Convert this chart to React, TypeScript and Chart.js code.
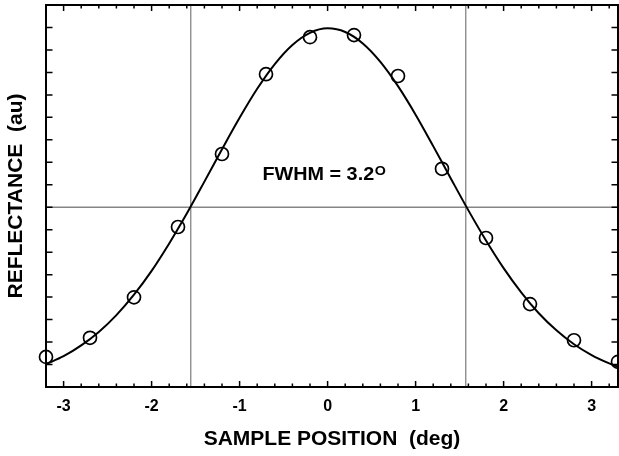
import React, { useEffect, useRef } from "react";
import { Chart, registerables } from "chart.js";

Chart.register(...registerables);

// ---- data ----
const sampleX = [-3.2, -2.7, -2.2, -1.7, -1.2, -0.7, -0.2, 0.3, 0.8, 1.3, 1.8, 2.3, 2.8, 3.3];
const sampleY = [1.34, 2.19, 3.99, 7.12, 10.37, 13.92, 15.57, 15.66, 13.84, 9.71, 6.63, 3.69, 2.08, 1.12];

const fitX = [
  -3.2, -3.0, -2.8, -2.6, -2.4, -2.2, -2.0, -1.8, -1.6, -1.4, -1.2, -1.0, -0.8, -0.6, -0.4, -0.2,
  0.0, 0.2, 0.4, 0.6, 0.8, 1.0, 1.2, 1.4, 1.6, 1.8, 2.0, 2.2, 2.4, 2.6, 2.8, 3.0, 3.2, 3.3,
];
const fitY = [
  1.02, 1.37, 1.85, 2.45, 3.2, 4.11, 5.17, 6.39, 7.72, 9.14, 10.58, 11.98, 13.27, 14.37, 15.22, 15.76,
  15.96, 15.8, 15.29, 14.47, 13.39, 12.12, 10.72, 9.28, 7.86, 6.52, 5.29, 4.21, 3.28, 2.52, 1.9, 1.42, 1.05, 0.9,
];

const halfMax = 8;
const fwhmEdges = [-1.555, 1.57];
const xRange = [-3.2, 3.3];
const yRange = [0, 17];

const fwhmLabel = "FWHM = 3.2";
const degreeMark = "O";
const xTitle = "SAMPLE POSITION  (deg)";
const yTitle = "REFLECTANCE  (au)";

const FONT = "'Liberation Sans', Arial, Helvetica, sans-serif";

const framePlugin = {
  id: "frameTicks",
  afterDraw(chart: any) {
    const { ctx, chartArea: a, scales } = chart;
    const xs = scales.x;
    const ys = scales.y;
    ctx.save();
    ctx.strokeStyle = "#000";
    ctx.lineWidth = 2;
    ctx.strokeRect(a.left, a.top, a.right - a.left, a.bottom - a.top);

    ctx.lineWidth = 1.5;
    ctx.beginPath();
    for (let i = -16; i <= 16; i++) {
      const px = xs.getPixelForValue(i / 5);
      const len = i % 5 === 0 ? 6 : 3.5;
      ctx.moveTo(px, a.bottom);
      ctx.lineTo(px, a.bottom - len);
      ctx.moveTo(px, a.top);
      ctx.lineTo(px, a.top + len);
    }
    for (let v = yRange[0] + 1; v < yRange[1]; v++) {
      const py = ys.getPixelForValue(v);
      ctx.moveTo(a.left, py);
      ctx.lineTo(a.left + 6.5, py);
      ctx.moveTo(a.right, py);
      ctx.lineTo(a.right - 6.5, py);
    }
    ctx.stroke();

    // annotation
    const ax = xs.getPixelForValue(-0.74);
    const ay = ys.getPixelForValue(9.23);
    ctx.translate(ax, ay);
    ctx.scale(1.1, 1);
    ctx.fillStyle = "#000";
    ctx.textBaseline = "alphabetic";
    ctx.textAlign = "left";
    ctx.font = `bold 18px ${FONT}`;
    ctx.fillText(fwhmLabel, 0, 0);
    const w = ctx.measureText(fwhmLabel).width;
    ctx.font = `bold 13px ${FONT}`;
    ctx.fillText(degreeMark, w + 0.5, -5);
    ctx.restore();
  },
};

export default function App() {
  const ref = useRef<HTMLCanvasElement | null>(null);

  useEffect(() => {
    if (!ref.current) return;
    const samples = sampleX.map((x, i) => ({ x, y: sampleY[i] }));
    const fit = fitX.map((x, i) => ({ x, y: fitY[i] }));
    const gray = "#858585";

    const chart = new Chart(ref.current, {
      type: "scatter",
      data: {
        datasets: [
          {
            data: samples,
            showLine: false,
            pointStyle: "circle",
            pointRadius: 6.5,
            pointBorderWidth: 1.7,
            pointBorderColor: "#000",
            pointBackgroundColor: "rgba(0,0,0,0)",
            clip: false,
            order: 0,
          },
          {
            data: fit,
            showLine: true,
            pointRadius: 0,
            borderColor: "#000",
            borderWidth: 2,
            cubicInterpolationMode: "monotone",
            order: 1,
          },
          {
            data: [
              { x: xRange[0], y: halfMax },
              { x: xRange[1], y: halfMax },
            ],
            showLine: true,
            pointRadius: 0,
            borderColor: gray,
            borderWidth: 1.3,
            order: 2,
          },
          {
            data: [
              { x: fwhmEdges[0], y: yRange[0] },
              { x: fwhmEdges[0], y: yRange[1] },
            ],
            showLine: true,
            pointRadius: 0,
            borderColor: gray,
            borderWidth: 1.3,
            order: 2,
          },
          {
            data: [
              { x: fwhmEdges[1], y: yRange[0] },
              { x: fwhmEdges[1], y: yRange[1] },
            ],
            showLine: true,
            pointRadius: 0,
            borderColor: gray,
            borderWidth: 1.3,
            order: 2,
          },
        ],
      },
      options: {
        animation: false,
        responsive: false,
        layout: { autoPadding: false, padding: { top: 5, right: 1, left: 0, bottom: 0 } },
        plugins: { legend: { display: false }, tooltip: { enabled: false } },
        scales: {
          x: {
            type: "linear",
            min: xRange[0],
            max: xRange[1],
            grid: { display: false, drawTicks: false },
            border: { display: false },
            ticks: {
              stepSize: 1,
              includeBounds: false,
              autoSkip: false,
              maxRotation: 0,
              color: "#000",
              padding: 10,
              font: { family: FONT, size: 16, weight: "bold" },
              callback: (v: any) => String(v),
            },
            title: {
              display: true,
              text: xTitle,
              color: "#000",
              font: { family: FONT, size: 21, weight: "bold" },
              padding: { top: 0, bottom: 4 },
            },
            afterFit: (s: any) => {
              s.height = 69;
              s.paddingLeft = 0;
              s.paddingRight = 0;
            },
          },
          y: {
            type: "linear",
            min: yRange[0],
            max: yRange[1],
            grid: { display: false, drawTicks: false },
            border: { display: false },
            ticks: { display: false },
            title: {
              display: true,
              text: yTitle,
              color: "#000",
              font: { family: FONT, size: 21, weight: "bold" },
              padding: { top: 4, bottom: 0 },
            },
            afterFit: (s: any) => {
              s.width = 46;
              s.paddingTop = 0;
              s.paddingBottom = 0;
            },
          },
        },
      },
      plugins: [framePlugin],
    } as any);

    return () => chart.destroy();
  }, []);

  return (
    <div style={{ position: "fixed", left: 0, top: 0, width: 619, height: 456, background: "#fff" }}>
      <canvas ref={ref} width={619} height={456} />
    </div>
  );
}
